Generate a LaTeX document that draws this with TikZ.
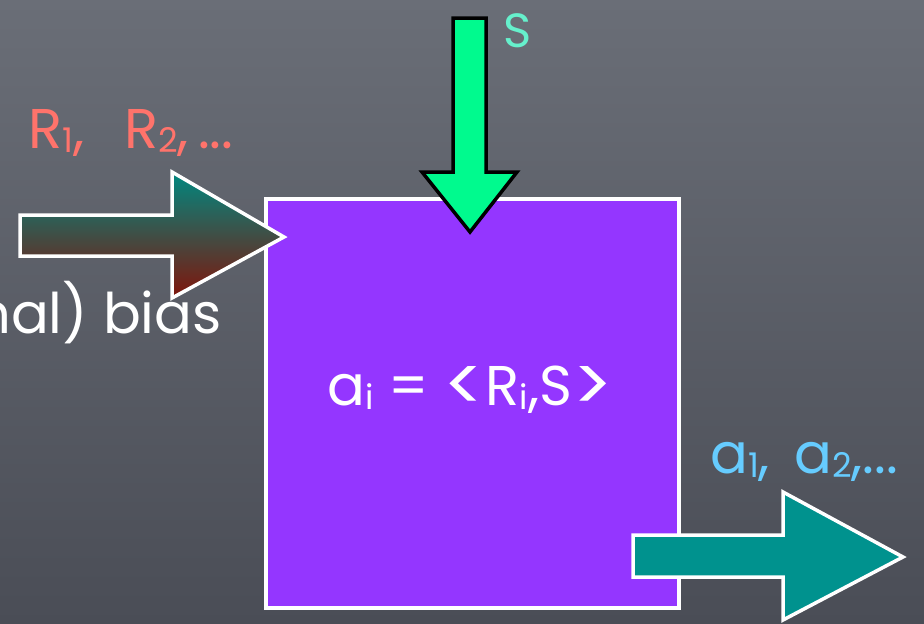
\documentclass[tikz,border=0pt]{standalone}
\usepackage{fontspec}
\setmainfont{Poppins}
\definecolor{bgtop}{RGB}{106,110,119}
\definecolor{bgbot}{RGB}{74,77,86}
\definecolor{boxpurple}{RGB}{148,54,255}
\definecolor{sgreen}{RGB}{0,250,142}
\definecolor{slabel}{RGB}{102,240,204}
\definecolor{rlabel}{RGB}{255,115,107}
\definecolor{alabel}{RGB}{102,204,255}
\definecolor{outteal}{RGB}{0,146,142}
\definecolor{gradtop}{RGB}{0,136,128}
\definecolor{gradmid}{RGB}{75,75,75}
\definecolor{gradbot}{RGB}{128,20,10}
\newcommand{\sbs}[1]{\raisebox{-0.08em}{\fontsize{34}{34}\selectfont #1}}
\newcommand{\chev}[1]{\raisebox{-0.12em}{\scalebox{1.35}{#1}}}
\tikzset{
  px/.style={x=1pt,y=-1pt},
  lbl/.style={inner sep=0pt,font=\fontsize{56}{66}\selectfont},
  blockarrow/.style={line width=3.5pt,line join=miter},
}
\begin{document}
\begin{tikzpicture}[px]
\useasboundingbox (0,0) rectangle (924,624);
\shade[top color=bgtop,bottom color=bgbot] (0,0) rectangle (924,624);
% main box
\node[draw=white,line width=4pt,fill=boxpurple,minimum width=413pt,minimum height=409pt,inner sep=0pt,anchor=north west] (box) at (264,197) {};
\node[lbl,white,anchor=base] (formula) at (470,405) {a\sbs{i} = \chev{<}R\sbs{i},S\chev{>}};
% left gradient arrow
\shade[top color=gradtop,middle color=gradmid,bottom color=gradbot,draw=white,blockarrow]
  (20,215) -- (172,215) -- (172,172) -- (284,237) -- (172,298) -- (172,256) -- (20,256) -- cycle;
\node[lbl,rlabel,anchor=base west] (rlab) at (28,148) {R\sbs{1},\;\, R\sbs{2},\,...};
\node[lbl,white,anchor=base east] (bias) at (222,333) {nal) bias};
% top green arrow
\draw[fill=sgreen,draw=black,blockarrow]
  (453,18) -- (486,18) -- (486,172) -- (517,172) -- (470,232) -- (422,172) -- (453,172) -- cycle;
\node[lbl,slabel,anchor=base west,font=\fontsize{48}{58}\selectfont] (slab) at (503,47) {S};
% right teal arrow
\draw[fill=outteal,draw=white,blockarrow]
  (633,535) -- (783,535) -- (783,492) -- (903,557) -- (783,620) -- (783,577) -- (633,577) -- cycle;
\node[lbl,alabel,anchor=base west] (alab) at (710,473) {a\sbs{1},\, a\sbs{2},...};
\end{tikzpicture}
\end{document}
